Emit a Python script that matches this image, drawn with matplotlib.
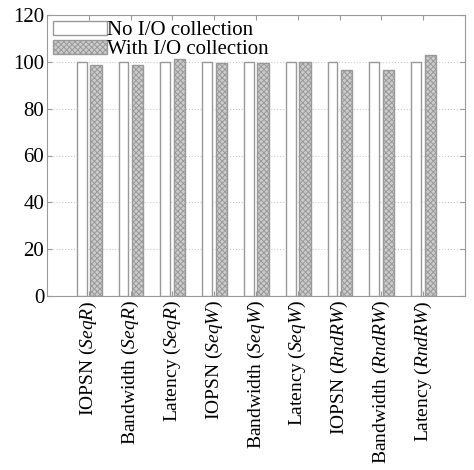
import numpy as np
import matplotlib
matplotlib.use('Agg')
import matplotlib.pyplot as plt

# data
categories = [r'IOPSN ($\mathit{SeqR}$)', r'Bandwidth ($\mathit{SeqR}$)', r'Latency ($\mathit{SeqR}$)',
              r'IOPSN ($\mathit{SeqW}$)', r'Bandwidth ($\mathit{SeqW}$)', r'Latency ($\mathit{SeqW}$)',
              r'IOPSN ($\mathit{RndRW}$)', r'Bandwidth ($\mathit{RndRW}$)', r'Latency ($\mathit{RndRW}$)']
no_io = [100, 100, 100, 100, 100, 100, 100, 100, 100]
with_io = [98.5, 98.5, 101, 99.5, 99.5, 100, 96.5, 96.5, 103]
y_ticks = [0, 20, 40, 60, 80, 100, 120]

plt.rcParams['font.family'] = 'Liberation Serif'
plt.rcParams['mathtext.fontset'] = 'custom'
plt.rcParams['mathtext.rm'] = 'Liberation Serif'
plt.rcParams['mathtext.it'] = 'Liberation Serif:italic'
plt.rcParams['hatch.color'] = '#777777'
plt.rcParams['hatch.linewidth'] = 0.7

fig = plt.figure(figsize=(4.74, 4.70), dpi=100)
ax = fig.add_axes([47 / 474, 174 / 470, 418 / 474, 281 / 470])

x = np.arange(1, len(categories) + 1)
ax.bar(x - 0.17, no_io, width=0.23, color='white', edgecolor='#999999', linewidth=1.0,
       label='No I/O collection', zorder=3)
ax.bar(x + 0.17, with_io, width=0.27, color='#cccccc', edgecolor='#999999', linewidth=1.0,
       hatch='xxxxxx', label='With I/O collection', zorder=3)

ax.set_xlim(0, 10)
ax.set_ylim(0, 120)
ax.set_yticks(y_ticks)
ax.set_xticks(x)
ax.set_xticklabels(categories, rotation=90, fontsize=14)
ax.tick_params(axis='y', labelsize=15, direction='in', right=True, colors='#999999', labelcolor='black', pad=2)
ax.tick_params(axis='x', direction='in', top=True, colors='#999999', labelcolor='black', pad=3)
ax.grid(axis='y', linestyle=':', color='#cccccc', linewidth=0.8, zorder=0)
for s in ax.spines.values():
    s.set_color('#999999')

ax.legend(loc='upper left', frameon=False, fontsize=15, handlelength=2.6, handleheight=0.6,
          handletextpad=0.0, labelspacing=0.0, borderaxespad=0.1, borderpad=0.2)

fig.savefig('out.png', dpi=100)
